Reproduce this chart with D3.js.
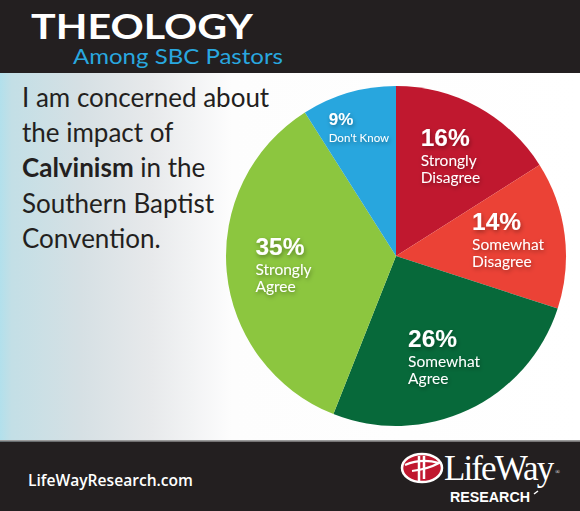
<!DOCTYPE html>
<html><head><meta charset="utf-8">
<script src="https://cdn.jsdelivr.net/npm/d3@7"></script>
<style>
html,body{margin:0;padding:0;background:#fff;}
svg{display:block;}
</style></head>
<body>
<script>
// ---- data ----
const categories = ["Strongly Disagree","Somewhat Disagree","Somewhat Agree","Strongly Agree","Don't Know"];
const values = [16, 14, 26, 35, 9];
const labelLines = [["Strongly","Disagree"],["Somewhat","Disagree"],["Somewhat","Agree"],["Strongly","Agree"],["Don't Know"]];
const colors = ["#c0182f","#eb4236","#07693a","#8cc63f","#28a6de"];
const questionLines = [["I am concerned about"],["the impact of"],["Calvinism"," in the"],["Southern Baptist"],["Convention."]];

const W = 580, H = 511;
const svg = d3.select("body").append("svg").attr("width", W).attr("height", H);
const defs = svg.append("defs");
const grad = defs.append("linearGradient").attr("id","bg").attr("x1","0").attr("x2","1").attr("y1","0").attr("y2","0");
[[0,"#b2e0ec"],[0.02,"#c3dfe6"],[0.14,"#d6e0e4"],[0.26,"#e7e9eb"],[0.4,"#fdfdfd"],[1,"#ffffff"]]
  .forEach(([o,c]) => grad.append("stop").attr("offset",o).attr("stop-color",c));
const sh = defs.append("filter").attr("id","shadow").attr("x","-30%").attr("y","-30%").attr("width","160%").attr("height","160%");
sh.append("feDropShadow").attr("dx",1).attr("dy",2).attr("stdDeviation",2).attr("flood-color","#000").attr("flood-opacity",0.35);

svg.append("rect").attr("width",W).attr("height",H).attr("fill","url(#bg)");

// header
svg.append("rect").attr("x",0).attr("y",0).attr("width",W).attr("height",73).attr("fill","#231f20");
svg.append("text").attr("x",31).attr("y",39).text("THEOLOGY")
  .attr("fill","#fff").attr("font-family","Lato, 'Open Sans', sans-serif").attr("font-weight",700)
  .attr("font-size",34).attr("textLength",222).attr("lengthAdjust","spacingAndGlyphs");
svg.append("text").attr("x",73).attr("y",64).text("Among SBC Pastors")
  .attr("fill","#29a7df").attr("font-family","Lato, 'Open Sans', sans-serif").attr("font-weight",400)
  .attr("font-size",21).attr("textLength",210).attr("lengthAdjust","spacingAndGlyphs");

// question text
const q = svg.append("g");
questionLines.forEach((parts, i) => {
  const t = q.append("text").attr("x",22).attr("y",107 + i*35.2)
    .attr("fill","#231f20").attr("font-family","Lato, 'Open Sans', sans-serif").attr("font-size",26);
  parts.forEach((p, j) => {
    t.append("tspan").text(p).attr("font-weight", (i === 2 && j === 0) ? 700 : 400);
  });
});

// pie
const cx = 396, cy = 256, R = 170;
const pie = d3.pie().sort(null).value(d => d.value);
const data = values.map((v,i) => ({name:categories[i], value:v, lines:labelLines[i], color:colors[i]}));
const arcs = pie(data);
const arc = d3.arc().innerRadius(0).outerRadius(R);
const g = svg.append("g").attr("transform",`translate(${cx},${cy})`);
g.selectAll("path").data(arcs).join("path").attr("d",arc).attr("fill",d => d.data.color);

// labels
arcs.forEach(d => {
  const small = d.data.value < 10;
  const lr = small ? 133 : 113;
  const [x, y] = d3.arc().innerRadius(lr).outerRadius(lr).centroid(d);
  const lg = g.append("g").attr("filter","url(#shadow)");
  const big = small ? 17 : 24.5;
  const sub = small ? 11.5 : 15.5;
  const gap1 = small ? 17 : 20;
  const gap2 = small ? 0 : 17;
  const t0 = lg.append("text").text(d.data.value + "%").attr("fill","#fff")
    .attr("font-family","'Liberation Sans', Arial, sans-serif").attr("font-weight",700).attr("font-size",big);
  const subs = d.data.lines.map((l, k) => lg.append("text").text(l).attr("fill","#fff")
    .attr("font-family","Lato, 'Open Sans', sans-serif").attr("font-size",sub)
    .attr("y", gap1 + k*gap2));
  let w = t0.node().getComputedTextLength();
  subs.forEach(s => { w = Math.max(w, s.node().getComputedTextLength()); });
  const topY = -big*0.72;
  const botY = gap1 + (d.data.lines.length-1)*gap2 + sub*0.22;
  const midY = (topY + botY)/2;
  lg.attr("transform",`translate(${x - w/2},${y - midY})`);
});

// footer
svg.append("rect").attr("x",0).attr("y",440).attr("width",W).attr("height",1.5).attr("fill","#9a9a9a");
svg.append("rect").attr("x",0).attr("y",441.5).attr("width",W).attr("height",H-441.5).attr("fill","#231f20");
svg.append("text").attr("x",28).attr("y",486).text("LifeWayResearch.com")
  .attr("fill","#fff").attr("font-family","'Open Sans', Lato, sans-serif").attr("font-weight",600)
  .attr("font-size",16).attr("textLength",165).attr("lengthAdjust","spacingAndGlyphs");
// logo
const logo = svg.append("g");
logo.append("ellipse").attr("cx",422).attr("cy",468).attr("rx",20).attr("ry",14)
  .attr("fill","#c0182f").attr("stroke","#fff").attr("stroke-width",2.5);
logo.append("path").attr("d","M419,456 L419,481 M424,456 L424,479").attr("stroke","#fff").attr("stroke-width",2.5);
logo.append("path").attr("d","M405,465 Q421,458 439,463 Q428,469 412,471").attr("fill","none").attr("stroke","#fff").attr("stroke-width",2.2);
const lw = logo.append("text").attr("x",444).attr("y",480)
  .attr("fill","#fff").attr("font-family","'Liberation Serif', 'DejaVu Serif', serif").attr("font-size",35)
  .attr("letter-spacing",-1.9);
lw.append("tspan").text("LifeWay");
lw.append("tspan").text("®").attr("font-size",6).attr("letter-spacing",0).attr("dx",3).attr("dy",-6);
logo.append("text").attr("x",450).attr("y",502).text("RESEARCH")
  .attr("fill","#fff").attr("font-family","'Liberation Sans', Arial, sans-serif").attr("font-weight",700)
  .attr("font-size",14.5).attr("textLength",80).attr("lengthAdjust","spacingAndGlyphs");
logo.append("path").attr("d","M534,494 L538,491").attr("stroke","#fff").attr("stroke-width",1.5);
</script>
</body></html>
